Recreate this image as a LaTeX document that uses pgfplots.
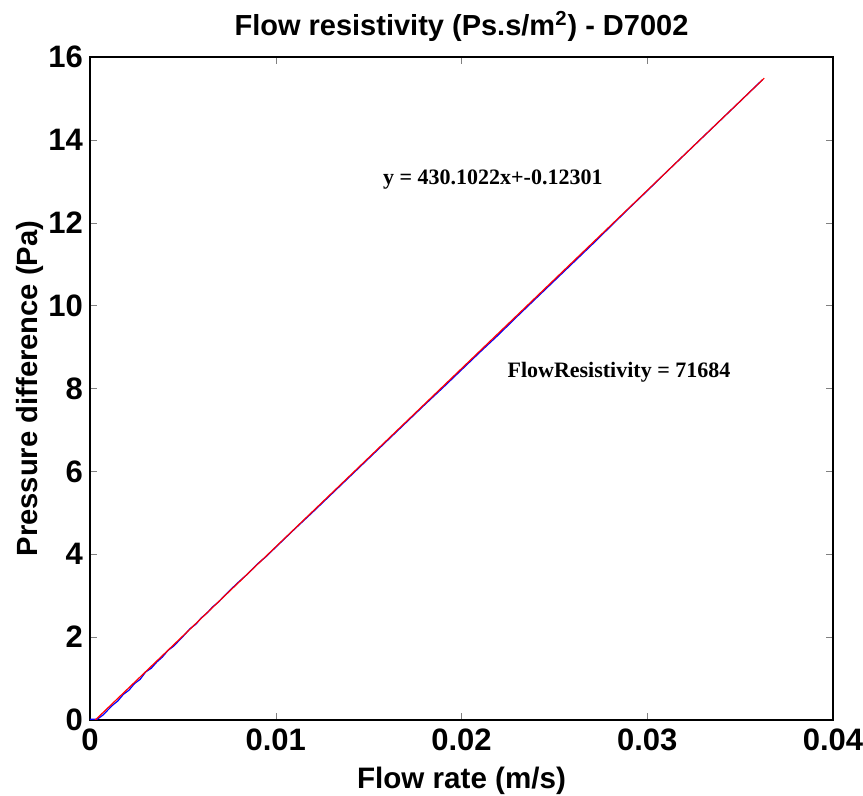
\documentclass[border=0pt]{standalone}
\usepackage{pgfplots}
\pgfplotsset{compat=1.18}
\usepackage{fontspec}
\setmainfont{Liberation Sans}
\newfontfamily\timesfont{Liberation Serif}
\begin{document}
\begin{tikzpicture}
\useasboundingbox (-45pt,-38pt) rectangle (386.5pt,360pt);
\begin{axis}[
  at={(0,0)}, anchor=south west,
  scale only axis, width=371.5pt, height=331.5pt,
  xmin=0, xmax=0.04, ymin=0, ymax=16,
  scaled x ticks=false,
  xtick={0,0.01,0.02,0.03,0.04},
  xticklabels={0,0.01,0.02,0.03,0.04},
  ytick={0,2,4,6,8,10,12,14,16},
  tick align=inside, major tick length=3.5pt,
  xtick pos=both, ytick pos=both,
  /pgf/number format/assume math mode=true,
  tick label style={font=\fontsize{15.5}{17}\selectfont\bfseries},
  xticklabel style={yshift=-1pt},
  xlabel style={font=\fontsize{14.8}{16}\selectfont\bfseries, yshift=-1pt},
  ylabel style={font=\fontsize{14.6}{16}\selectfont\bfseries, yshift=-4.5pt},
  title style={font=\fontsize{14.5}{16}\selectfont\bfseries, yshift=-2pt},
  title={Flow resistivity (Ps.s/m\textsuperscript{2}) - D7002},
  xlabel={Flow rate (m/s)},
  ylabel={Pressure difference (Pa)},
  axis line style={line width=1pt},
  clip=true,
]
\addplot[blue, line width=0.6pt] coordinates {
(0,0.02) (0.0004,0.02) (0.0007,0.12) (0.0012,0.35) (0.0015,0.46) (0.0018,0.62) (0.0021,0.72) (0.0024,0.88) (0.0027,0.98) (0.003,1.16) (0.0033,1.25) (0.0036,1.40) (0.0039,1.52) (0.0042,1.68) (0.0045,1.78) (0.0048,1.92) (0.0051,2.06) (0.0054,2.21) (0.0057,2.31) (0.006,2.47) (0.0063,2.58) (0.0066,2.73) (0.0069,2.84) (0.0072,2.98) (0.0076,3.16) (0.008,3.33) (0.0085,3.53) (0.009,3.76) (0.0095,3.95) (0.01,4.17) (0.011,4.60) (0.012,5.02) (0.013,5.45) (0.014,5.88) (0.015,6.31) (0.016,6.74) (0.017,7.17) (0.018,7.60) (0.019,8.02) (0.02,8.45) (0.021,8.88) (0.022,9.30) (0.023,9.74) (0.024,10.17) (0.025,10.60) (0.026,11.03) (0.027,11.46) (0.028,11.90) (0.029,12.34) (0.03,12.77) (0.031,13.21) (0.032,13.64) (0.033,14.07) (0.034,14.50) (0.035,14.93) (0.0362,15.45)
};
\addplot[red, line width=0.6pt] coordinates {(0,-0.12301) (0.0363,15.4897)};
\node[anchor=west, font=\timesfont\fontsize{11}{13}\selectfont\bfseries] at (axis cs:0.0154,13.03) {y = 430.1022x+-0.12301};
\node[anchor=west, font=\timesfont\fontsize{11}{13}\selectfont\bfseries] at (axis cs:0.0221,8.40) {FlowResistivity = 71684};
\end{axis}
\end{tikzpicture}
\end{document}
